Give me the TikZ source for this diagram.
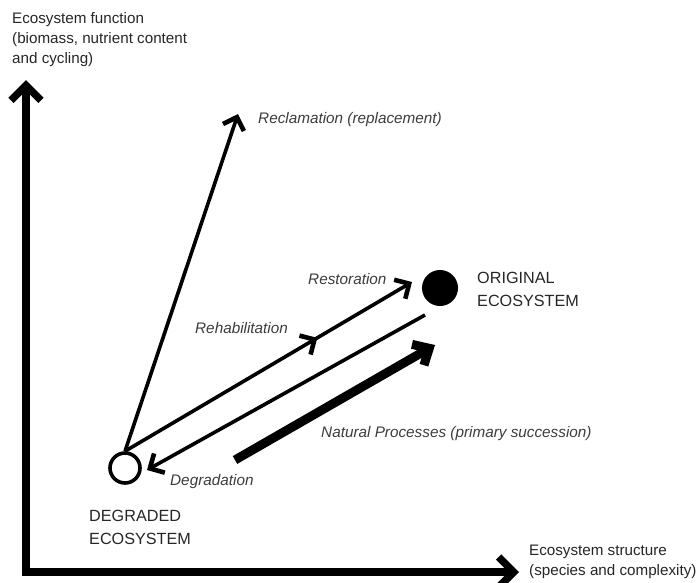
\documentclass[tikz,border=0pt]{standalone}
\usepackage{fontspec}
\setmainfont{Liberation Sans}
\usetikzlibrary{arrows.meta,decorations.markings}
\definecolor{txt}{HTML}{262626}
\definecolor{lbl}{HTML}{3C3C3C}
\begin{document}
\begin{tikzpicture}[x=1pt,y=-1pt,
  axisarrow/.style={line width=7.5pt, line join=miter,
    {Straight Barb[length=15pt,width=30pt]}-{Straight Barb[length=15pt,width=30pt]}},
  thinarrow/.style={line width=3.6pt, -{Straight Barb[length=11pt,width=22pt,line width=4.6pt]}},
  thickarrow/.style={line width=9pt, -{Straight Barb[length=13pt,width=24pt]}},
  midarrow/.style={postaction={decorate},
    decoration={markings, mark=at position 0.67 with {\arrow{Straight Barb[length=11pt,width=22pt,line width=4.6pt]}}}},
  lab/.style={font=\fontsize{15.3}{19}\selectfont\itshape, text=lbl, inner sep=0pt, anchor=base west},
  caps/.style={font=\fontsize{16.2}{23}\selectfont, text=txt, inner sep=0pt, align=left, anchor=north west},
  axlab/.style={font=\fontsize{15.2}{20}\selectfont, text=txt, inner sep=0pt, align=left, anchor=north west}
]
\useasboundingbox (0,0) rectangle (696,582);

% axes
\coordinate (O) at (26,572);
\coordinate (ytip) at (26,80);
\coordinate (xtip) at (519,572);
\draw[axisarrow] (ytip) -- (O) -- (xtip);

% ecosystems
\node[draw, circle, line width=3.6pt, minimum size=30pt, inner sep=0pt] (deg) at (125,468) {};
\node[circle, fill=black, minimum size=36pt, inner sep=0pt] (orig) at (440,288) {};

% connectors
\coordinate (reclTip) at (238,114);
\coordinate (restTip) at (412,282);
\coordinate (degrStart) at (425,315);
\coordinate (degrTip) at (147,470);
\coordinate (natStart) at (235,460);
\coordinate (natTip) at (435,345);

\draw[thinarrow] (deg.north) -- (reclTip);
\draw[thinarrow, midarrow] (deg.north) -- (restTip);
\draw[thinarrow] (degrStart) -- (degrTip);
\draw[thickarrow] (natStart) -- (natTip);

% labels
\node[lab] (lrecl) at (258,123) {Reclamation (replacement)};
\node[lab] (lrest) at (308,284) {Restoration};
\node[lab] (lrehab) at (195,333) {Rehabilitation};
\node[lab] (lnat) at (321,437) {Natural Processes (primary succession)};
\node[lab] (ldeg) at (170,485) {Degradation};

\node[caps] (tdeg) at (89,510) {DEGRADED\\ECOSYSTEM};
\node[caps] (torig) at (477,272) {ORIGINAL\\ECOSYSTEM};

\node[axlab] (ylab) at (12,12) {Ecosystem function\\(biomass, nutrient content\\and cycling)};
\node[axlab] (xlab) at (529,545) {Ecosystem structure\\(species and complexity)};
\end{tikzpicture}
\end{document}
